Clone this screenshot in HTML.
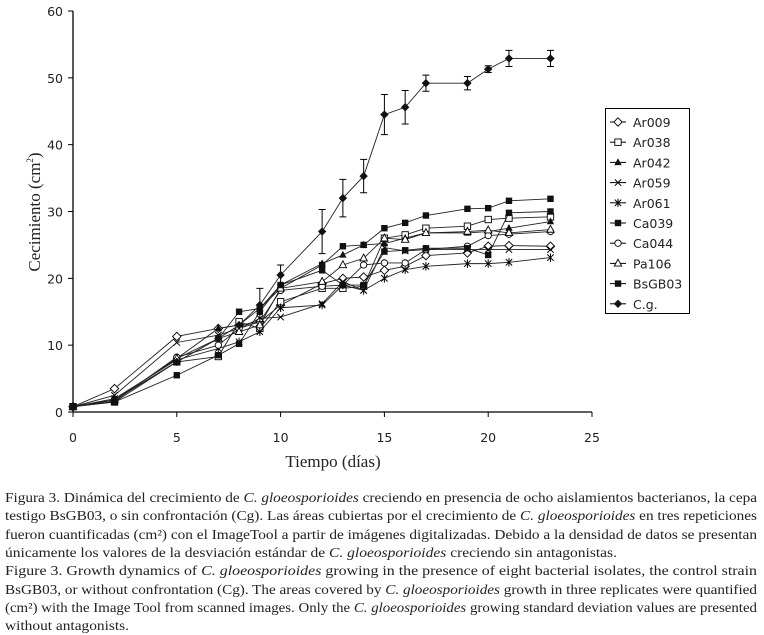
<!DOCTYPE html>
<html><head><meta charset="utf-8"><style>
html,body{margin:0;padding:0;background:#fff;}
svg{display:block;}
</style></head><body>
<svg id="chart" width="764" height="635" xmlns="http://www.w3.org/2000/svg">
<g id="axes"></g>
<g id="series"></g>
<g id="legend"></g>
<text transform="translate(40,212) rotate(-90)" text-anchor="middle" font-family="Liberation Serif, serif" font-size="17" fill="#222">Cecimiento (cm<tspan font-size="9" dy="-7">2</tspan><tspan dy="7">)</tspan></text>
<text x="333" y="467" text-anchor="middle" font-family="Liberation Serif, serif" font-size="17" fill="#222">Tiempo (días)</text>
<g font-family="Liberation Serif, serif" font-size="13.5" fill="#222">
<text x="5" y="502" textLength="752" lengthAdjust="spacingAndGlyphs">Figura 3. Dinámica del crecimiento de <tspan font-style="italic">C. gloeosporioides</tspan> creciendo en presencia de ocho aislamientos bacterianos, la cepa</text>
<text x="5" y="520" textLength="752" lengthAdjust="spacingAndGlyphs">testigo BsGB03, o sin confrontación (Cg). Las áreas cubiertas por el crecimiento de <tspan font-style="italic">C. gloeosporioides</tspan> en tres repeticiones</text>
<text x="5" y="539" textLength="752" lengthAdjust="spacingAndGlyphs">fueron cuantificadas (cm²) con el ImageTool a partir de imágenes digitalizadas. Debido a la densidad de datos se presentan</text>
<text x="5" y="557" textLength="612" lengthAdjust="spacingAndGlyphs">únicamente los valores de la desviación estándar de <tspan font-style="italic">C. gloeosporioides</tspan> creciendo sin antagonistas.</text>
<text x="5" y="575" textLength="752" lengthAdjust="spacingAndGlyphs">Figure 3. Growth dynamics of <tspan font-style="italic">C. gloeosporioides</tspan> growing in the presence of eight bacterial isolates, the control strain</text>
<text x="5" y="594" textLength="752" lengthAdjust="spacingAndGlyphs">BsGB03, or without confrontation (Cg). The areas covered by <tspan font-style="italic">C. gloeosporioides</tspan> growth in three replicates were quantified</text>
<text x="5" y="612" textLength="752" lengthAdjust="spacingAndGlyphs">(cm²) with the Image Tool from scanned images. Only the <tspan font-style="italic">C. gloeosporioides</tspan> growing standard deviation values are presented</text>
<text x="5" y="630" textLength="124" lengthAdjust="spacingAndGlyphs">without antagonists.</text>
</g>
</svg>
<script>
const days = [0,2,5,7,8,9,10,12,13,14,15,16,17,19,20,21,23];
const seriesNames = ["Ar009","Ar038","Ar042","Ar059","Ar061","Ca039","Ca044","Pa106","BsGB03","C.g."];
const ar009 = [0.8,3.5,11.3,12.5,13,13.5,16,19.2,20,20.2,21.2,21.8,23.4,23.8,24.8,24.9,24.8];
const ar038 = [0.8,1.5,7.5,8.3,13.5,12.5,16.5,18.5,18.5,18.8,26,26.5,27.5,27.8,28.8,29,29.2];
const ar042 = [0.8,1.8,8,12.5,13,15.5,19,22.2,23.5,25,25.2,26,26.8,26.8,27,27.5,28.5];
const ar059 = [0.8,2.5,10.4,11.5,12.5,14,14.2,16.2,19.5,18.2,24.6,24.1,24.3,24.3,24.3,24.3,24.3];
const ar061 = [0.8,2,7.8,9.5,10.5,12,15.6,16,19,18.2,20,21.3,21.8,22.2,22.2,22.4,23.1];
const ca039 = [0.8,1.8,7.5,11,15,15.5,18.5,22,24.8,25,27.5,28.3,29.4,30.4,30.5,31.6,31.9];
const ca044 = [0.8,1.6,8.2,10,12.5,13.5,18.2,18.8,19,22,22.3,22.3,24.3,24.8,26.4,26.6,27];
const pa106 = [0.8,1.8,8,11,12,13,18.5,19.5,22,23,26,25.8,26.8,27,27.2,26.8,27.3];
const bsgb03 = [0.8,1.5,5.5,8.5,10.2,15,19,21.2,19,19,24,24.2,24.5,24.5,23.5,29.8,30];
const cg = [0.8,1.8,7.5,11,13,16,20.5,27,32,35.3,44.5,45.6,49.2,49.2,51.3,52.9,52.9];
const cgErr = [0,0,0,0,0,2.5,1.5,3.3,2.8,2.5,3,2.5,1.2,1,0.5,1.2,1.2];
const xTicks = [0,5,10,15,20,25];
const yTicks = [0,10,20,30,40,50,60];

const X0=73,X1=592,Y0=412,Y1=11;
const sx = v => X0 + v/25*(X1-X0);
const sy = v => Y0 - v/60*(Y0-Y1);
const NS="http://www.w3.org/2000/svg";
function mk(tag, attrs, parent){const e=document.createElementNS(NS,tag);for(const k in attrs)e.setAttribute(k,attrs[k]);parent.appendChild(e);return e;}

const axes=document.getElementById('axes');
let l=mk('line',{x1:X0,y1:Y1,x2:X0,y2:Y0,stroke:'#000','stroke-width':1.3},axes);


l=mk('line',{x1:X0,y1:Y0,x2:X1,y2:Y0,stroke:'#000','stroke-width':1.3},axes);


yTicks.forEach(t=>{
  mk('line',{x1:X0-5,y1:sy(t),x2:X0,y2:sy(t),stroke:'#000'},axes);
  const tx=mk('text',{x:X0-10,y:sy(t)+5,'text-anchor':'end','font-family':'DejaVu Sans, sans-serif','font-size':12.5,fill:'#222'},axes);
  tx.textContent=t;
  
  
});
xTicks.forEach(t=>{
  mk('line',{x1:sx(t),y1:Y0,x2:sx(t),y2:Y0+5,stroke:'#000'},axes);
  const tx=mk('text',{x:sx(t),y:Y0+30,'text-anchor':'middle','font-family':'DejaVu Sans, sans-serif','font-size':12.5,fill:'#222'},axes);
  tx.textContent=t;
  
  
});

function marker(g,type,x,y){
  const s=3.2;
  switch(type){
    case 'diamond-open': mk('polygon',{points:`${x},${y-s-1} ${x+s+1},${y} ${x},${y+s+1} ${x-s-1},${y}`,fill:'#fff',stroke:'#000','stroke-width':0.9},g);break;
    case 'square-open': mk('rect',{x:x-s,y:y-s,width:2*s,height:2*s,fill:'#fff',stroke:'#000','stroke-width':0.9},g);break;
    case 'square': mk('rect',{x:x-s,y:y-s,width:2*s,height:2*s,fill:'#111'},g);break;
    case 'tri': mk('polygon',{points:`${x},${y-s-1} ${x+s+0.5},${y+s-0.5} ${x-s-0.5},${y+s-0.5}`,fill:'#111'},g);break;
    case 'tri-open': mk('polygon',{points:`${x},${y-s-1} ${x+s+0.5},${y+s-0.5} ${x-s-0.5},${y+s-0.5}`,fill:'#fff',stroke:'#000','stroke-width':0.9},g);break;
    case 'x': mk('path',{d:`M${x-s},${y-s}L${x+s},${y+s}M${x-s},${y+s}L${x+s},${y-s}`,stroke:'#000','stroke-width':1},g);break;
    case 'star': mk('path',{d:`M${x-s},${y-s}L${x+s},${y+s}M${x-s},${y+s}L${x+s},${y-s}M${x},${y-s-1}L${x},${y+s+1}`,stroke:'#000','stroke-width':1},g);break;
    case 'circle-open': mk('circle',{cx:x,cy:y,r:s,fill:'#fff',stroke:'#000','stroke-width':0.9},g);break;
    case 'diamond': mk('polygon',{points:`${x},${y-s-1} ${x+s+1},${y} ${x},${y+s+1} ${x-s-1},${y}`,fill:'#111'},g);break;
  }
}
const allData=[ar009,ar038,ar042,ar059,ar061,ca039,ca044,pa106,bsgb03,cg];
const types=['diamond-open','square-open','tri','x','star','square','circle-open','tri-open','square','diamond'];
const sg=document.getElementById('series');
allData.forEach((d,i)=>{
  const g=mk('g',{},sg);
  
  
  mk('polyline',{points:d.map((v,j)=>sx(days[j])+','+sy(v)).join(' '),fill:'none',stroke:'#222','stroke-width':0.9},g);
  if(d===cg){
    d.forEach((v,j)=>{ if(cgErr[j]>0){
      const x=sx(days[j]);
      const e=mk('path',{d:`M${x},${sy(v-cgErr[j])}L${x},${sy(v+cgErr[j])}M${x-3.5},${sy(v-cgErr[j])}L${x+3.5},${sy(v-cgErr[j])}M${x-3.5},${sy(v+cgErr[j])}L${x+3.5},${sy(v+cgErr[j])}`,stroke:'#000','stroke-width':1},g);
      
      
    }});
  }
  d.forEach((v,j)=>marker(g,types[i],sx(days[j]),sy(v)));
});

const lg=document.getElementById('legend');


mk('rect',{x:605.5,y:108.5,width:84,height:205,fill:'#fff',stroke:'#000','stroke-width':1},lg);
seriesNames.forEach((n,i)=>{
  const y=122+i*20.2;
  const g=mk('g',{},lg);
  
  
  mk('line',{x1:610,y1:y,x2:626,y2:y,stroke:'#000','stroke-width':1},g);
  marker(g,types[i],618,y);
  const t=mk('text',{x:633,y:y+5,'font-family':'DejaVu Sans, sans-serif','font-size':12.5,fill:'#222'},g);
  t.textContent=n;
});
</script>
</body></html>
